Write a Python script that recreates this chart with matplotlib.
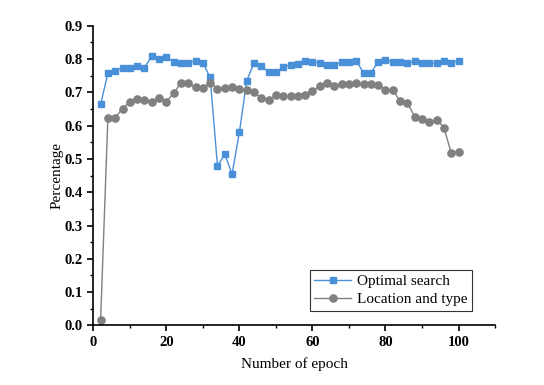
import numpy as np
import matplotlib
matplotlib.use('Agg')
import matplotlib.pyplot as plt
from matplotlib.ticker import MultipleLocator

# epochs sampled every 2
epochs = np.arange(2, 101, 2)

optimal_search = [0.664, 0.757, 0.765, 0.773, 0.772, 0.779, 0.774, 0.808, 0.800, 0.806,
                  0.792, 0.789, 0.789, 0.795, 0.788, 0.745, 0.479, 0.514, 0.455, 0.580,
                  0.734, 0.788, 0.780, 0.760, 0.760, 0.775, 0.783, 0.786, 0.795, 0.791,
                  0.789, 0.781, 0.781, 0.791, 0.791, 0.795, 0.758, 0.758, 0.792, 0.796,
                  0.791, 0.791, 0.787, 0.793, 0.788, 0.788, 0.788, 0.793, 0.789, 0.795]

location_type = [0.015, 0.624, 0.624, 0.651, 0.672, 0.681, 0.677, 0.672, 0.683, 0.672,
                 0.697, 0.729, 0.728, 0.715, 0.713, 0.729, 0.710, 0.713, 0.717, 0.709,
                 0.708, 0.700, 0.682, 0.678, 0.691, 0.689, 0.689, 0.689, 0.693, 0.703,
                 0.720, 0.727, 0.719, 0.726, 0.725, 0.727, 0.725, 0.726, 0.722, 0.708,
                 0.707, 0.674, 0.668, 0.627, 0.621, 0.611, 0.618, 0.594, 0.518, 0.522]

plt.rcParams['font.family'] = ['Liberation Serif', 'DejaVu Serif']

fig = plt.figure(figsize=(5.44, 3.85), dpi=100)
ax = fig.add_axes([0.1715, 0.1548, 0.7385, 0.7784])

ax.plot(epochs, optimal_search, color='#4a90d9', marker='s', markersize=4.5,
        linewidth=1.0, label='Optimal search')
ax.plot(epochs, location_type, color='#808080', marker='o', markersize=5.2,
        linewidth=1.0, label='Location and type')

ax.set_xlim(0, 110)
ax.set_ylim(0, 0.9)
ax.xaxis.set_major_locator(MultipleLocator(20))
ax.xaxis.set_minor_locator(MultipleLocator(10))
ax.yaxis.set_major_locator(MultipleLocator(0.1))
ax.yaxis.set_minor_locator(MultipleLocator(0.05))
ax.yaxis.set_major_formatter(matplotlib.ticker.FormatStrFormatter('%.1f'))

ax.spines['top'].set_visible(False)
ax.spines['right'].set_visible(False)
for s in ('left', 'bottom'):
    ax.spines[s].set_linewidth(1.2)
ax.tick_params(which='major', direction='out', length=4, width=1.2, labelsize=10.5)
ax.tick_params(which='minor', direction='out', length=2.5, width=1.0)
for lab in ax.get_xticklabels() + ax.get_yticklabels():
    lab.set_fontweight('bold')

ax.set_xlabel('Number of epoch', fontsize=11, labelpad=6)
ax.set_ylabel('Percentage', fontsize=11, labelpad=1)

leg = ax.legend(loc='lower right', bbox_to_anchor=(0.9435, 0.048), borderaxespad=0,
                fontsize=11, frameon=True, fancybox=False, handlelength=2.4,
                labelspacing=0.3, handletextpad=0.4, borderpad=0.3)
leg.get_frame().set_edgecolor('black')
leg.get_frame().set_linewidth(0.8)

fig.savefig('out.png', dpi=100)
